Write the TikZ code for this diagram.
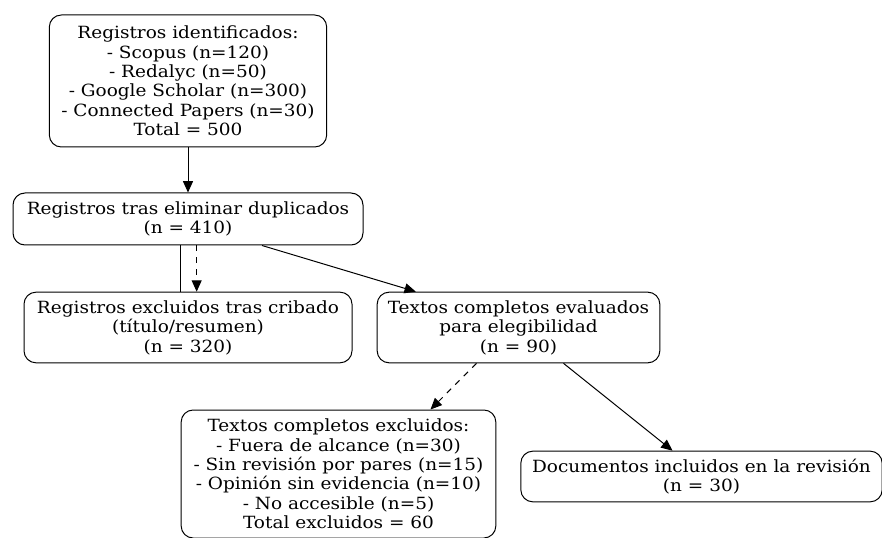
\documentclass[tikz,border=0pt]{standalone}
\usepackage{fontspec}
\setmainfont{DejaVu Serif}[FakeStretch=1.1]
\usepackage{tikz}
\usetikzlibrary{arrows.meta, positioning}

\begin{document}
\begin{tikzpicture}[x=0.75pt, y=-0.75pt,
	box/.style={draw, line width=0.75pt, rounded corners=9pt, align=center, inner sep=0pt,
		font=\fontsize{12.6}{14.6}\selectfont},
	arr/.style={line width=0.75pt, -{Triangle[length=8.5pt,width=7.5pt]}},
	dasharr/.style={arr, dashed, dash pattern=on 4.5pt off 4.5pt}]
	\useasboundingbox (0,0) rectangle (882,538);
	% Identification
	\node[box, minimum width=208pt, minimum height=99pt] (ident) at (188,81)
		{Registros identificados:\\- Scopus (n=120)\\- Redalyc (n=50)\\- Google Scholar (n=300)\\- Connected Papers (n=30)\\Total = 500};
	\node[box, minimum width=262.5pt, minimum height=39pt] (dup) at (188,219)
		{Registros tras eliminar duplicados\\(n = 410)};
	% Screening
	\node[box, minimum width=246pt, minimum height=53pt] (excl) at (188,327.5)
		{Registros excluidos tras cribado\\(título/resumen)\\(n = 320)};
	\node[box, minimum width=212pt, minimum height=53pt] (full) at (518.5,327.5)
		{Textos completos evaluados\\para elegibilidad\\(n = 90)};
	% Eligibility
	\node[box, minimum width=236pt, minimum height=96pt] (exfull) at (338.5,474)
		{Textos completos excluidos:\\- Fuera de alcance (n=30)\\- Sin revisión por pares (n=15)\\- Opinión sin evidencia (n=10)\\- No accesible (n=5)\\Total excluidos = 60};
	\node[box, minimum width=271pt, minimum height=38pt] (incl) at (701.5,476.5)
		{Documentos incluidos en la revisión\\(n = 30)};
	% Edges
	\draw[arr] (ident) -- (dup);
	\draw[line width=0.75pt] ([xshift=-6pt]dup.south) -- ([xshift=-6pt]excl.north);
	\draw[dasharr] ([xshift=6.5pt]dup.south) -- ([xshift=6.5pt]excl.north);
	\draw[arr] ([xshift=55.5pt]dup.south) -- ([xshift=-77pt]full.north);
	\draw[dasharr] ([xshift=-31.5pt]full.south) -- ([xshift=69pt]exfull.north);
	\draw[arr] ([xshift=33.75pt]full.south) -- ([xshift=-21.75pt]incl.north);
\end{tikzpicture}
\end{document}
